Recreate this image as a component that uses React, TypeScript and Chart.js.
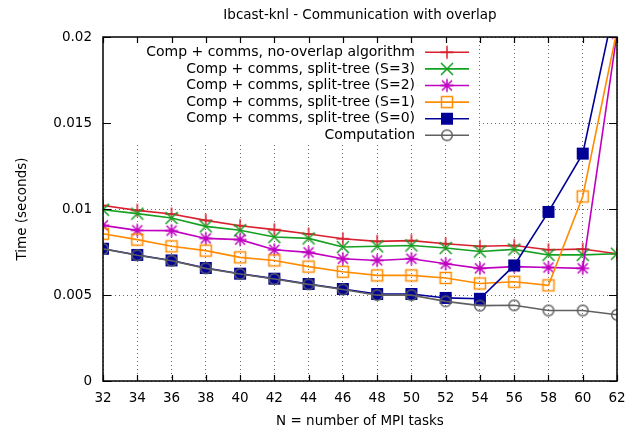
import { useEffect, useRef } from 'react';
import { Chart, registerables } from 'chart.js';

Chart.register(...registerables);

// ---- data ----
const taskCounts = [32, 34, 36, 38, 40, 42, 44, 46, 48, 50, 52, 54, 56, 58, 60, 62];
const noOverlap = [0.0102, 0.00992, 0.00971, 0.00934, 0.00903, 0.0088, 0.00855, 0.00827, 0.00812, 0.00816, 0.00798, 0.00783, 0.00788, 0.00763, 0.00767, 0.0074];
const splitS3 = [0.00996, 0.00973, 0.00948, 0.00899, 0.00876, 0.00837, 0.00829, 0.00779, 0.00783, 0.00788, 0.00773, 0.00753, 0.00765, 0.00733, 0.00733, 0.0074];
const splitS2 = [0.00905, 0.00876, 0.00874, 0.00829, 0.00822, 0.00763, 0.00748, 0.00711, 0.00701, 0.00711, 0.00682, 0.00655, 0.00665, 0.0066, 0.00655, 0.0202];
const splitS1 = [0.00856, 0.00822, 0.00783, 0.00758, 0.00719, 0.00701, 0.00665, 0.00635, 0.00614, 0.00614, 0.00599, 0.00567, 0.00577, 0.00556, 0.01073, 0.0204];
const splitS0 = [0.00769, 0.00733, 0.00701, 0.00657, 0.00624, 0.00595, 0.00564, 0.00535, 0.00506, 0.00506, 0.00483, 0.00478, 0.00672, 0.00983, 0.01322, 0.0225];
const computation = [0.00768, 0.00731, 0.00699, 0.00655, 0.00622, 0.00593, 0.00562, 0.00532, 0.00499, 0.00499, 0.00463, 0.00438, 0.0044, 0.0041, 0.0041, 0.00385];

const seriesLabels = [
  'Comp + comms, no-overlap algorithm',
  'Comp + comms, split-tree (S=3)',
  'Comp + comms, split-tree (S=2)',
  'Comp + comms, split-tree (S=1)',
  'Comp + comms, split-tree (S=0)',
  'Computation',
];
const seriesColors = ['#d8202f', '#14a020', '#c000c0', '#ff8c00', '#000096', '#606060'];
const seriesMarkers = ['plus', 'cross', 'star', 'square', 'filledSquare', 'circle'];
const yTickLabels = ['0', '0.005', '0.01', '0.015', '0.02'];
const chartTitle = 'Ibcast-knl - Communication with overlap';
const xAxisTitle = 'N = number of MPI tasks';
const yAxisTitle = 'Time (seconds)';

const FONT = '"DejaVu Sans", sans-serif';

function makeMarker(kind: string, color: string): HTMLCanvasElement {
  const s = 20;
  const c = document.createElement('canvas');
  c.width = s;
  c.height = s;
  const g = c.getContext('2d')!;
  const m = s / 2;
  g.strokeStyle = color;
  g.fillStyle = color;
  g.lineWidth = 1.5;
  g.beginPath();
  if (kind === 'plus' || kind === 'star') {
    g.moveTo(m - 6.5, m); g.lineTo(m + 6.5, m);
    g.moveTo(m, m - 6.5); g.lineTo(m, m + 6.5);
  }
  if (kind === 'cross' || kind === 'star') {
    const d = kind === 'star' ? 5 : 6;
    g.moveTo(m - d, m - d); g.lineTo(m + d, m + d);
    g.moveTo(m - d, m + d); g.lineTo(m + d, m - d);
  }
  if (kind === 'square') {
    g.rect(m - 5.5, m - 5.5, 11, 11);
  }
  if (kind === 'circle') {
    g.arc(m, m, 5.3, 0, Math.PI * 2);
  }
  if (kind === 'filledSquare') {
    g.fillRect(m - 6, m - 6, 12, 12);
  } else {
    g.stroke();
  }
  return c;
}

export default function App() {
  const ref = useRef<HTMLCanvasElement>(null);

  useEffect(() => {
    const canvas = ref.current!;
    const markers = seriesMarkers.map((k, i) => makeMarker(k, seriesColors[i]));
    const allSeries = [noOverlap, splitS3, splitS2, splitS1, splitS0, computation];

    const frame = {
      id: 'gnuplotFrame',
      beforeDatasetsDraw(chart: any) {
        const { ctx, chartArea: a } = chart;
        ctx.save();
        // opaque key box
        ctx.fillStyle = '#ffffff';
        ctx.fillRect(a.left, a.top, 477 - a.left, 142.7 - a.top);
        ctx.font = `14px ${FONT}`;
        ctx.textAlign = 'right';
        ctx.textBaseline = 'middle';
        seriesLabels.forEach((lab, i) => {
          const y = 52.3 + i * 16.6;
          ctx.fillStyle = '#000';
          ctx.fillText(lab, 415, y);
          ctx.strokeStyle = seriesColors[i];
          ctx.lineWidth = 1.6;
          ctx.beginPath();
          ctx.moveTo(425, y);
          ctx.lineTo(469, y);
          ctx.stroke();
          const mk = markers[i];
          ctx.drawImage(mk, 447 - mk.width / 2, y - mk.height / 2);
        });
        ctx.restore();
      },
      afterDatasetsDraw(chart: any) {
        const { ctx, chartArea: a, scales } = chart;
        ctx.save();
        ctx.strokeStyle = '#000';
        ctx.lineWidth = 1.2;
        ctx.beginPath();
        scales.x.ticks.forEach((t: any) => {
          const px = Math.round(scales.x.getPixelForValue(t.value)) + 0.5;
          ctx.moveTo(px, a.bottom); ctx.lineTo(px, a.bottom - 6);
          ctx.moveTo(px, a.top); ctx.lineTo(px, a.top + 6);
        });
        scales.y.ticks.forEach((t: any) => {
          const py = Math.round(scales.y.getPixelForValue(t.value)) + 0.5;
          ctx.moveTo(a.left, py); ctx.lineTo(a.left + 8, py);
          ctx.moveTo(a.right, py); ctx.lineTo(a.right - 8, py);
        });
        ctx.stroke();
        ctx.lineWidth = 1.5;
        ctx.strokeRect(a.left, a.top, a.right - a.left, a.bottom - a.top);
        ctx.restore();
      },
      afterDraw(chart: any) {
        const { ctx, chartArea: a } = chart;
        ctx.save();
        ctx.fillStyle = '#000';
        ctx.font = `13.5px ${FONT}`;
        ctx.textAlign = 'center';
        ctx.textBaseline = 'middle';
        const cx = (a.left + a.right) / 2;
        ctx.fillText(chartTitle, cx, 15);
        ctx.fillText(xAxisTitle, cx, 421);
        ctx.translate(22, (a.top + a.bottom) / 2);
        ctx.rotate(-Math.PI / 2);
        ctx.fillText(yAxisTitle, 0, 0);
        ctx.restore();
      },
    };

    const chart = new Chart(canvas, {
      type: 'line',
      data: {
        datasets: allSeries.map((vals, i) => ({
          label: seriesLabels[i],
          data: taskCounts.map((x, j) => ({ x, y: vals[j] })),
          borderColor: seriesColors[i],
          backgroundColor: seriesColors[i],
          borderWidth: 1.6,
          pointStyle: markers[i] as any,
          pointRadius: 6,
          pointHoverRadius: 6,
          tension: 0,
          fill: false,
          order: 5 - i,
        })),
      },
      options: {
        animation: false,
        responsive: false,
        devicePixelRatio: 1,
        events: [],
        layout: { padding: { left: 0, right: 20, top: 37, bottom: 0 } },
        plugins: {
          legend: { display: false },
          title: { display: false },
          tooltip: { enabled: false },
        },
        scales: {
          x: {
            type: 'linear',
            min: 32,
            max: 62,
            afterFit: (s: any) => { s.height = 51; },
            ticks: {
              stepSize: 2,
              autoSkip: false,
              maxRotation: 0,
              padding: 9,
              color: '#000',
              font: { family: FONT, size: 13.5 },
              callback: (v: any) => String(v),
            },
            grid: { color: 'rgba(0,0,0,0.6)', lineWidth: 1, drawTicks: false },
            border: { display: false, dash: [1, 3] },
          },
          y: {
            type: 'linear',
            min: 0,
            max: 0.02,
            afterFit: (s: any) => { s.width = 103; },
            ticks: {
              stepSize: 0.005,
              padding: 11,
              color: '#000',
              font: { family: FONT, size: 13.5 },
              callback: (_v: any, idx: number) => yTickLabels[idx],
            },
            grid: { color: 'rgba(0,0,0,0.6)', lineWidth: 1, drawTicks: false },
            border: { display: false, dash: [1, 3] },
          },
        },
      },
      plugins: [frame],
    });
    return () => chart.destroy();
  }, []);

  return (
    <div style={{ position: 'absolute', left: 0, top: 0, width: 637, height: 432, background: '#fff' }}>
      <canvas ref={ref} width={637} height={432} style={{ display: 'block', width: 637, height: 432 }} />
    </div>
  );
}
